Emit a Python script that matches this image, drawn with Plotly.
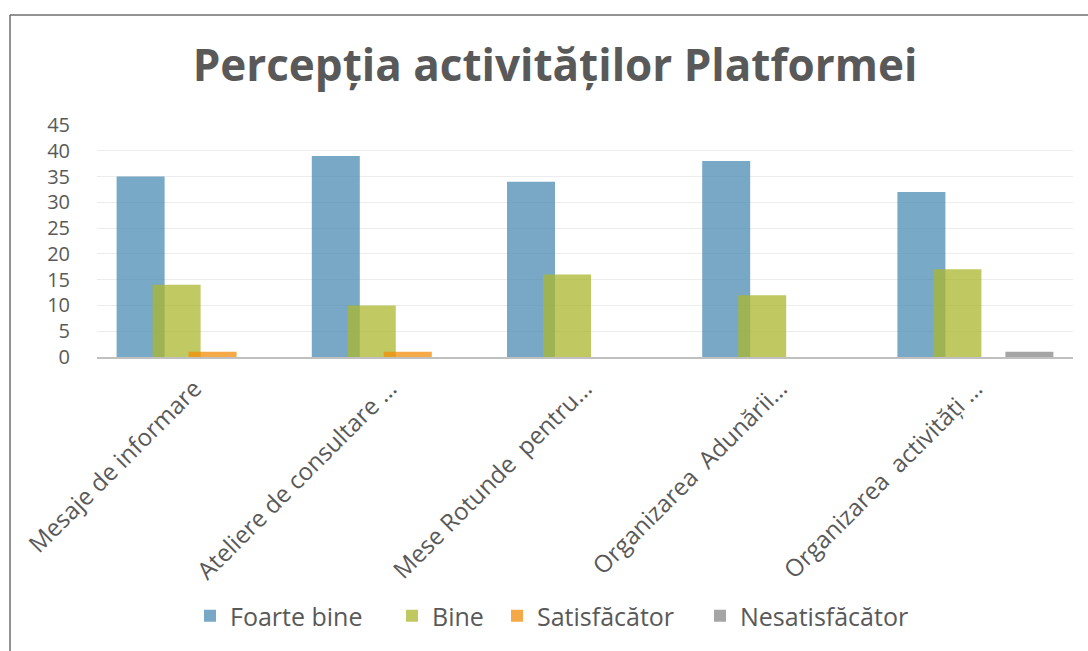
import plotly.graph_objects as go

categories = ["Mesaje de informare", "Ateliere de consultare …", "Mese Rotunde  pentru…",
              "Organizarea  Adunării…", "Organizarea  activități …"]
series_names = ["Foarte bine", "Bine", "Satisfăcător", "Nesatisfăcător"]
foarte_bine = [35, 39, 34, 38, 32]
bine = [14, 10, 16, 12, 17]
satisfacator = [1, 1, 0, 0, 0]
nesatisfacator = [0, 0, 0, 0, 1]
y_ticks = [0, 5, 10, 15, 20, 25, 30, 35, 40, 45]

colors = ["rgb(75,140,180)", "rgb(171,183,45)", "rgb(242,140,10)", "rgb(135,135,135)"]
values = [foarte_bine, bine, satisfacator, nesatisfacator]
legend_ids = ["legend", "legend2", "legend3", "legend4"]
legend_px = [208, 410, 515, 718]

W, H = 1088, 651
ml, mr, mt, mb = 97, 15, 125, 294
pw = W - ml - mr
ph = H - mt - mb

bar_w = 48 / (pw / 5)
step = 36 / (pw / 5)
start = -(3 * step + bar_w) / 2

def px_x(px):
    return (px - ml) / pw

def px_y(py):
    return (H - mb - py) / ph

fig = go.Figure()
for i, (name, vals, col) in enumerate(zip(series_names, values, colors)):
    fig.add_trace(go.Bar(
        x=categories, y=vals, name=name,
        marker=dict(color=col, line=dict(width=0)),
        opacity=0.75,
        width=bar_w, offset=start + i * step,
        legend=legend_ids[i], showlegend=True,
    ))

legend_common = dict(orientation="h", yanchor="middle", y=px_y(616),
                     font=dict(size=25, color="#595959"), itemwidth=30,
                     bgcolor="rgba(0,0,0,0)", xanchor="left")
legends = {}
for lid, lx in zip(legend_ids, legend_px):
    legends[lid] = dict(legend_common, x=px_x(lx - 18))

fig.update_layout(
    width=W, height=H,
    margin=dict(l=ml, r=mr, t=mt, b=mb),
    barmode="overlay",
    showlegend=True,
    plot_bgcolor="white", paper_bgcolor="white",
    font=dict(family="Open Sans", color="#595959"),
    title=dict(text="<b>Percepția activităților Platformei</b>",
               x=555 / W, xanchor="center", y=1 - 66 / H, yanchor="middle",
               font=dict(size=44, color="#595959", family="Open Sans")),
    xaxis=dict(showgrid=False, showline=True, linecolor="#c0c0c0", linewidth=2,
               tickangle=-45, tickfont=dict(size=24, color="#595959"),
               ticks="", range=[-0.5, 4.5], ticklabelstandoff=6),
    yaxis=dict(range=[0, 45], tickvals=y_ticks, showgrid=True, gridcolor="#ececec",
               gridwidth=1, zeroline=False, showline=False,
               tickfont=dict(size=20, color="#595959"), ticks="",
               ticklabelstandoff=26),
    shapes=[
        dict(type="line", xref="paper", yref="paper",
             x0=px_x(10), x1=px_x(10), y0=px_y(15), y1=px_y(660),
             line=dict(color="#6e6e6e", width=1.5)),
        dict(type="line", xref="paper", yref="paper",
             x0=px_x(10), x1=px_x(1095), y0=px_y(15), y1=px_y(15),
             line=dict(color="#6e6e6e", width=1.5)),
    ],
    **legends,
)

fig.write_html("out.html", config={"displayModeBar": False},
               post_script="document.body.style.margin='0';document.body.style.overflow='hidden';")
